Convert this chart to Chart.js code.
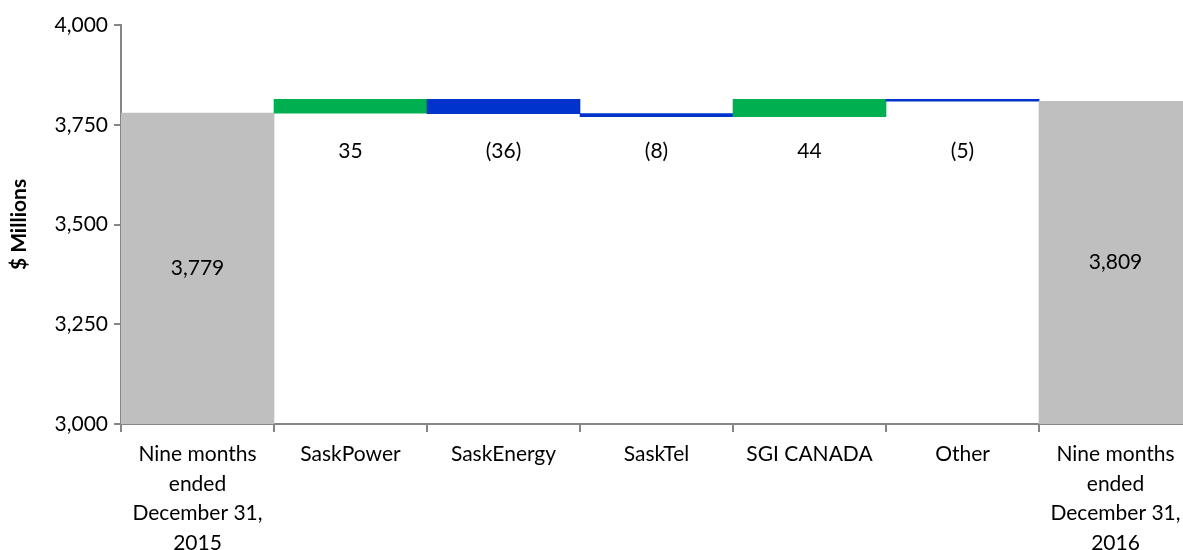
<!DOCTYPE html>
<html>
<head>
<meta charset="utf-8">
<script src="https://cdn.jsdelivr.net/npm/chart.js@4.4.1/dist/chart.umd.min.js"></script>
<style>
  html, body { margin: 0; padding: 0; background: #fff; overflow: hidden; }
  #wrap { width: 1192px; height: 550px; position: relative; }
</style>
</head>
<body>
<div id="wrap"><canvas id="chart"></canvas></div>
<script>
const categories = [
  ["Nine months", "ended", "December 31,", "2015"],
  "SaskPower",
  "SaskEnergy",
  "SaskTel",
  "SGI CANADA",
  "Other",
  ["Nine months", "ended", "December 31,", "2016"],
];
const startTotal = 3779;
const changes = [35, -36, -8, 44, -5];
const endTotal = 3809;
const yTicks = [3000, 3250, 3500, 3750, 4000];
const deltaLabelLevel = 3684;

const GRAY = "#bfbfbf", GREEN = "#00b050", BLUE = "#0033cc", AXIS = "#868686";
const FONT = "Lato, 'Open Sans', sans-serif";

// floating bars: totals from the axis floor, changes from running level
const ranges = [[yTicks[0], startTotal]];
const colors = [GRAY];
let level = startTotal;
changes.forEach((c) => {
  ranges.push([level, level + c]);
  colors.push(c >= 0 ? GREEN : BLUE);
  level += c;
});
ranges.push([yTicks[0], endTotal]);
colors.push(GRAY);

function fmt(n) {
  const s = Math.abs(n).toLocaleString("en-US");
  return n < 0 ? "(" + s + ")" : s;
}

const labelPlugin = {
  id: "waterfallLabels",
  afterDatasetsDraw(chart) {
    const { ctx } = chart;
    const x = chart.scales.x, y = chart.scales.y;
    ctx.save();
    ctx.font = "21px " + FONT;
    ctx.fillStyle = "#000";
    ctx.textAlign = "center";
    ctx.textBaseline = "middle";
    const values = [startTotal, ...changes, endTotal];
    values.forEach((v, i) => {
      const px = x.getPixelForValue(i);
      let py;
      if (i === 0 || i === values.length - 1) py = y.getPixelForValue((ranges[i][0] + ranges[i][1]) / 2);
      else py = y.getPixelForValue(deltaLabelLevel);
      ctx.fillText(fmt(v), px, py);
    });
    ctx.restore();
  },
};

new Chart(document.getElementById("chart"), {
  type: "bar",
  data: {
    labels: categories,
    datasets: [{
      data: ranges,
      backgroundColor: colors,
      borderWidth: 0,
      barPercentage: 1,
      categoryPercentage: 1,
    }],
  },
  options: {
    responsive: true,
    maintainAspectRatio: false,
    animation: false,
    layout: { padding: { top: 25, right: 0, left: 0, bottom: 0 } },
    plugins: { legend: { display: false }, tooltip: { enabled: false } },
    scales: {
      x: {
        offset: true,
        grid: { offset: true, drawOnChartArea: false, color: AXIS, tickLength: 8, lineWidth: 2 },
        border: { color: AXIS, width: 2 },
        ticks: { color: "#000", font: { family: FONT, size: 21, lineHeight: 1.4 }, maxRotation: 0, autoSkip: false, padding: 8 },
        afterFit: (s) => { s.height = 126; },
      },
      y: {
        min: yTicks[0],
        max: yTicks[yTicks.length - 1],
        afterBuildTicks: (s) => { s.ticks = yTicks.map((v) => ({ value: v })); },
        grid: { drawOnChartArea: false, color: AXIS, tickLength: 7, lineWidth: 2 },
        border: { color: AXIS, width: 2 },
        ticks: { color: "#000", font: { family: FONT, size: 21 }, padding: 6, callback: (v) => v.toLocaleString("en-US") },
        title: { display: true, text: "$ Millions", color: "#000", font: { family: FONT, size: 21, weight: "bold" }, padding: { top: 7, bottom: 0 } },
        afterFit: (s) => { s.width = 121; },
      },
    },
  },
  plugins: [labelPlugin],
});
</script>
</body>
</html>
